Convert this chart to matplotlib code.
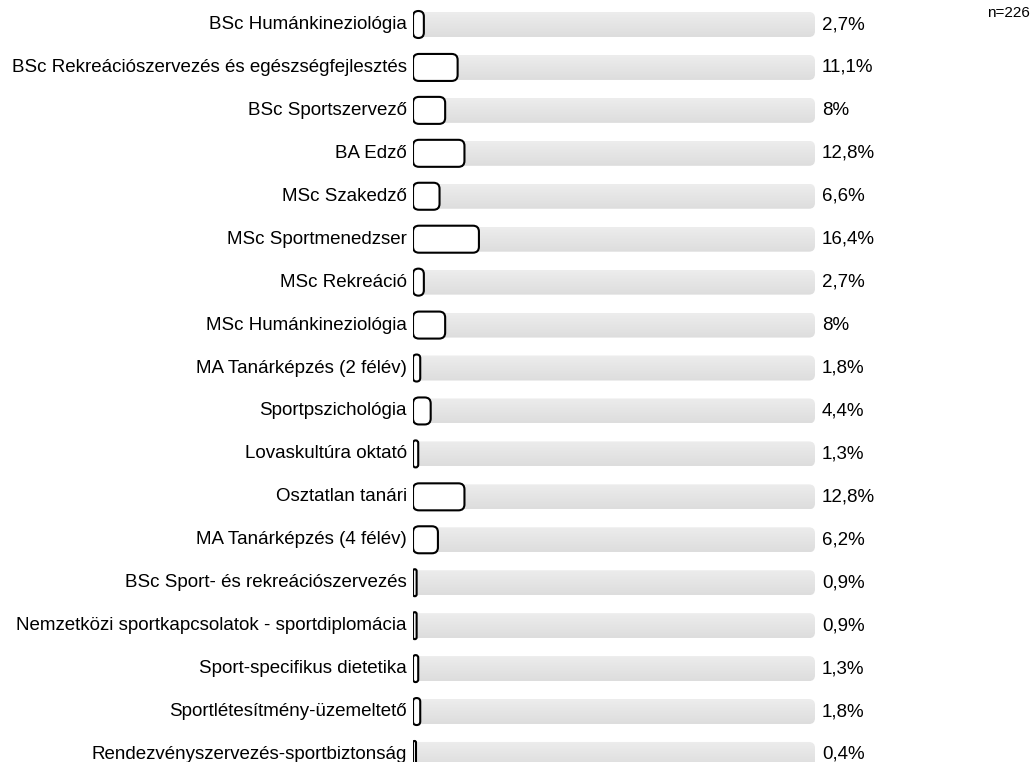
import matplotlib
matplotlib.use("Agg")
import numpy as np
import matplotlib.pyplot as plt
from matplotlib.patches import FancyBboxPatch

plt.rcParams['font.family'] = ['Liberation Sans', 'DejaVu Sans']

# Data
labels = [
    "BSc Humánkineziológia",
    "BSc Rekreációszervezés és egészségfejlesztés",
    "BSc Sportszervező",
    "BA Edző",
    "MSc Szakedző",
    "MSc Sportmenedzser",
    "MSc Rekreáció",
    "MSc Humánkineziológia",
    "MA Tanárképzés (2 félév)",
    "Sportpszichológia",
    "Lovaskultúra oktató",
    "Osztatlan tanári",
    "MA Tanárképzés (4 félév)",
    "BSc Sport- és rekreációszervezés",
    "Nemzetközi sportkapcsolatok - sportdiplomácia",
    "Sport-specifikus dietetika",
    "Sportlétesítmény-üzemeltető",
    "Rendezvényszervezés-sportbiztonság",
]
values = [2.7, 11.1, 8.0, 12.8, 6.6, 16.4, 2.7, 8.0, 1.8, 4.4, 1.3, 12.8, 6.2, 0.9, 0.9, 1.3, 1.8, 0.4]
value_text = ["2,7%", "11,1%", "8%", "12,8%", "6,6%", "16,4%", "2,7%", "8%", "1,8%",
              "4,4%", "1,3%", "12,8%", "6,2%", "0,9%", "0,9%", "1,3%", "1,8%", "0,4%"]
n_total = 226

W, H = 1033, 762
fig = plt.figure(figsize=(W / 100, H / 100), dpi=100)

# axes: x 0..100 % maps to pixel 413..815, rows centred at 25 + 42.94*i
x0_px, x1_px = 413, 815
row0, step = 24.5, 42.94
ax = fig.add_axes([x0_px / W, 0, (x1_px - x0_px) / W, 1])
ax.axis('off')

xpp = 100 / (x1_px - x0_px)    # x data per pixel
ypp = 1 / step                  # y data per pixel
aspect = ypp / xpp

grad = np.linspace(0, 1, 64).reshape(-1, 1)
track_cmap = plt.cm.colors.LinearSegmentedColormap.from_list('g', ['#ededed', '#dddddd'])


def rbox(x, y, w, h, r_px, **kw):
    # rounded box, w/h in data units, radius in pixels
    r = min(r_px, w / xpp / 2, h / ypp / 2) * xpp
    p = FancyBboxPatch((x, y), w, h,
                       boxstyle="round,pad=0,rounding_size=%f" % r,
                       mutation_aspect=aspect, **kw)
    ax.add_patch(p)
    return p


for i, (lab, v, t) in enumerate(zip(labels, values, value_text)):
    # grey track with a soft vertical gradient
    th = 25 * ypp
    track = rbox(0, i - th / 2, 100, th, 6, facecolor='none', edgecolor='none', zorder=1)
    im = ax.imshow(grad, cmap=track_cmap, extent=(0, 100, i + th / 2, i - th / 2),
                   aspect='auto', zorder=1, interpolation='bilinear')
    im.set_clip_path(track)
    # value bar
    bh = 27 * ypp
    w = max(v, 3 * xpp)
    rbox(0, i - bh / 2, w, bh, 6, facecolor='white', edgecolor='black',
         linewidth=1.5, zorder=2)
    ax.text(-6 * xpp, i, lab, ha='right', va='center', fontsize=13.5, clip_on=False)
    ax.text(100 + 7 * xpp, i, t, ha='left', va='center', fontsize=13.5, clip_on=False)

ax.set_xlim(0, 100)
ax.set_ylim((H - row0) / step, -row0 / step)

fig.text(1030 / W, 1 - 13 / H, "n=%d" % n_total, ha='right', va='center', fontsize=11)

fig.savefig("out.png", dpi=100)
